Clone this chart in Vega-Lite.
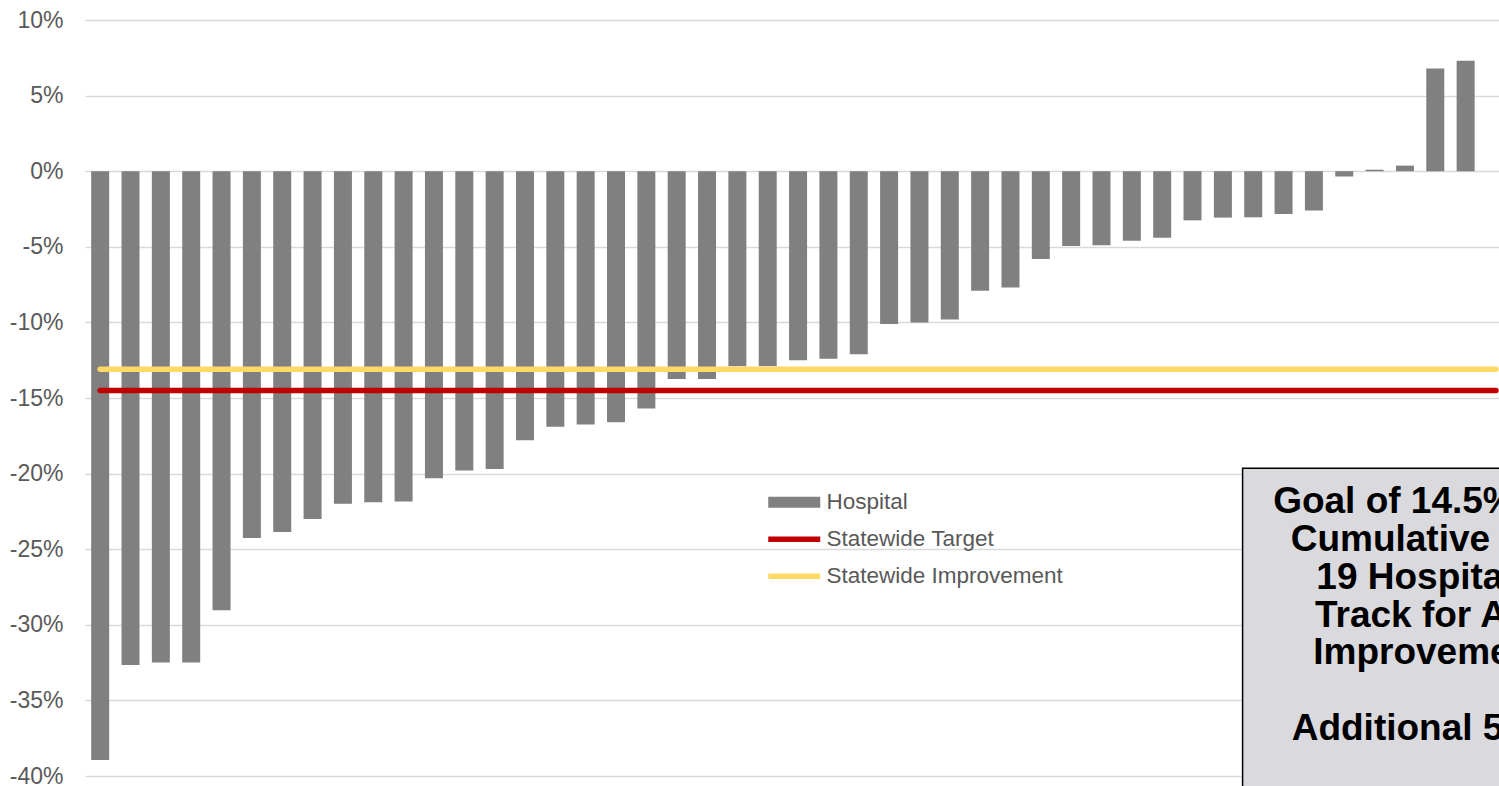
{
  "$schema": "https://vega.github.io/schema/vega-lite/v6.json",
  "width": 1414,
  "height": 756,
  "autosize": {"type": "none"},
  "padding": {"left": 85, "top": 20, "right": 0, "bottom": 10},
  "background": "white",
  "config": {"view": {"stroke": null}, "font": "Liberation Sans"},
  "datasets": {
    "hospitals": [
      {"rank": 1, "change": -38.95},
      {"rank": 2, "change": -32.66},
      {"rank": 3, "change": -32.5},
      {"rank": 4, "change": -32.5},
      {"rank": 5, "change": -29.04},
      {"rank": 6, "change": -24.26},
      {"rank": 7, "change": -23.86},
      {"rank": 8, "change": -23.0},
      {"rank": 9, "change": -22.0},
      {"rank": 10, "change": -21.9},
      {"rank": 11, "change": -21.85},
      {"rank": 12, "change": -20.3},
      {"rank": 13, "change": -19.8},
      {"rank": 14, "change": -19.7},
      {"rank": 15, "change": -17.8},
      {"rank": 16, "change": -16.9},
      {"rank": 17, "change": -16.75},
      {"rank": 18, "change": -16.6},
      {"rank": 19, "change": -15.7},
      {"rank": 20, "change": -13.75},
      {"rank": 21, "change": -13.75},
      {"rank": 22, "change": -12.9},
      {"rank": 23, "change": -12.9},
      {"rank": 24, "change": -12.5},
      {"rank": 25, "change": -12.4},
      {"rank": 26, "change": -12.1},
      {"rank": 27, "change": -10.1},
      {"rank": 28, "change": -10.0},
      {"rank": 29, "change": -9.8},
      {"rank": 30, "change": -7.9},
      {"rank": 31, "change": -7.7},
      {"rank": 32, "change": -5.8},
      {"rank": 33, "change": -4.95},
      {"rank": 34, "change": -4.9},
      {"rank": 35, "change": -4.6},
      {"rank": 36, "change": -4.4},
      {"rank": 37, "change": -3.25},
      {"rank": 38, "change": -3.07},
      {"rank": 39, "change": -3.05},
      {"rank": 40, "change": -2.83},
      {"rank": 41, "change": -2.6},
      {"rank": 42, "change": -0.35},
      {"rank": 43, "change": 0.1},
      {"rank": 44, "change": 0.37},
      {"rank": 45, "change": 6.8},
      {"rank": 46, "change": 7.3}
    ],
    "statewide": [
      {"series": "Statewide Improvement", "change": -13.1},
      {"series": "Statewide Target", "change": -14.5}
    ]
  },
  "layer": [
    {
      "data": {"name": "hospitals"},
      "mark": {"type": "bar", "size": 18, "orient": "vertical"},
      "encoding": {
        "x": {"field": "rank", "type": "quantitative", "scale": {"domain": [0.5, 47.1], "nice": false, "zero": false, "padding": 0}, "axis": null},
        "y": {
          "field": "change", "type": "quantitative",
          "scale": {"domain": [-40, 10], "nice": false, "padding": 0},
          "axis": {
            "title": null, "values": [-40, -35, -30, -25, -20, -15, -10, -5, 0, 5, 10],
            "labelExpr": "datum.value + '%'", "domain": false, "ticks": false,
            "labelPadding": 22, "labelFontSize": 23, "labelColor": "#595959", "labelFont": "Liberation Sans",
            "grid": true, "gridColor": "#d9d9d9", "gridWidth": 1.3
          }
        },
        "color": {
          "datum": "Hospital", "type": "nominal", "title": null,
          "scale": {"domain": ["Hospital", "Statewide Target", "Statewide Improvement"], "range": ["#808080", "#c00000", "#ffd966"]},
          "legend": {
            "title": null, "orient": "none", "legendX": 698, "legendY": 471, "padding": 0,
            "labelFont": "Liberation Sans", "labelFontSize": 22.5, "labelColor": "#595959", "labelLimit": 500,
            "symbolSize": 400, "labelOffset": 21, "rowPadding": 14,
            "encode": {
              "symbols": {
                "update": {
                  "shape": {"signal": "datum.value === 'Hospital' ? 'M-2.6,-0.55H2.6V0.55H-2.6Z' : 'M-2.6,-0.27H2.6V0.27H-2.6Z'"},
                  "fill": {"scale": "color", "field": "value"},
                  "stroke": {"value": "transparent"},
                  "strokeWidth": {"value": 0},
                  "opacity": {"value": 1},
                  "size": {"value": 400}
                }
              }
            }
          }
        }
      }
    },
    {
      "data": {"name": "statewide"},
      "mark": {"type": "rule", "strokeWidth": 5.5, "strokeCap": "round"},
      "encoding": {
        "x": {"datum": 1, "type": "quantitative"},
        "x2": {"datum": 47},
        "y": {"field": "change", "type": "quantitative"},
        "color": {"field": "series", "type": "nominal", "title": null}
      }
    },
    {
      "data": {"values": [{}]},
      "mark": {"type": "rect", "fill": "#d9d9de", "stroke": "#000000", "strokeWidth": 1.5},
      "encoding": {
        "x": {"datum": 38.65, "type": "quantitative"},
        "x2": {"datum": 60},
        "y": {"datum": -19.65, "type": "quantitative"},
        "y2": {"datum": -50}
      }
    },
    {
      "data": {"values": [{}]},
      "mark": {"type": "text", "font": "Liberation Sans", "fontWeight": "bold", "fontSize": 37, "align": "center", "baseline": "alphabetic", "lineHeight": 37.8, "color": "#000000"},
      "encoding": {
        "x": {"datum": 46.67, "type": "quantitative"},
        "y": {"datum": -22.62, "type": "quantitative"},
        "text": {"value": ["Goal of 14.5% Statewide", "Cumulative Reduction", "19 Hospitals are on", "Track for Achieving", "Improvement Goals"]}
      }
    },
    {
      "data": {"values": [{}]},
      "mark": {"type": "text", "font": "Liberation Sans", "fontWeight": "bold", "fontSize": 37, "align": "center", "baseline": "alphabetic", "color": "#000000"},
      "encoding": {
        "x": {"datum": 46.67, "type": "quantitative"},
        "y": {"datum": -37.62, "type": "quantitative"},
        "text": {"value": "Additional 5 Hospitals"}
      }
    }
  ]
}
